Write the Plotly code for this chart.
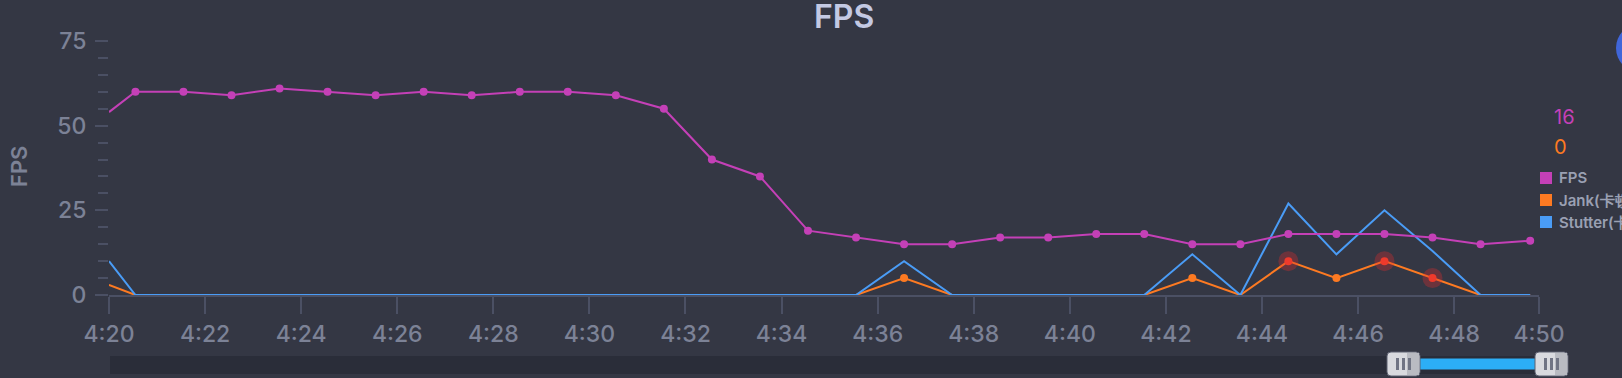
import plotly.graph_objects as go

# ---------------- data ----------------
times = ["04:20:00", "04:20:33", "04:21:33", "04:22:33", "04:23:33", "04:24:33", "04:25:33",
         "04:26:33", "04:27:33", "04:28:33", "04:29:33", "04:30:33", "04:31:33", "04:32:33",
         "04:33:33", "04:34:33", "04:35:33", "04:36:33", "04:37:33", "04:38:33", "04:39:33",
         "04:40:33", "04:41:33", "04:42:33", "04:43:33", "04:44:33", "04:45:33", "04:46:33",
         "04:47:33", "04:48:33", "04:49:35"]
fps = [54, 60, 60, 59, 61, 60, 59, 60, 59, 60, 60, 59, 55, 40, 35, 19, 17, 15, 15, 17, 17,
       18, 18, 15, 15, 18, 18, 18, 17, 15, 16]
jank = [3, 0, 0, 0, 0, 0, 0, 0, 0, 0, 0, 0, 0, 0, 0, 0, 0, 5, 0, 0, 0,
        0, 0, 5, 0, 10, 5, 10, 5, 0, 0]
stutter = [10, 0, 0, 0, 0, 0, 0, 0, 0, 0, 0, 0, 0, 0, 0, 0, 0, 10, 0, 0, 0,
           0, 0, 12, 0, 27, 12, 25, 13, 0, 0]
jank_dots = ["04:36:33", "04:42:33", "04:45:33"]
jank_alerts = ["04:44:33", "04:46:33", "04:47:33"]
tick_times = ["04:20", "04:22", "04:24", "04:26", "04:28", "04:30", "04:32", "04:34",
              "04:36", "04:38", "04:40", "04:42", "04:44", "04:46", "04:48"]
tick_labels = ["4:20", "4:22", "4:24", "4:26", "4:28", "4:30", "4:32", "4:34",
               "4:36", "4:38", "4:40", "4:42", "4:44", "4:46", "4:48"]
axis_end = "04:49:46"
axis_end_label = "4:50"
legend_names = ["FPS", "Jank(卡顿次数)", "Stutter(卡顿率)"]
current_values = ["16", "0"]

DAY = "2024-01-01 "
X = [DAY + t for t in times]

C_BG = "#343744"
C_FPS = "#c440b7"
C_JANK = "#fd7a22"
C_STUT = "#4a9cf6"
C_AXIS = "#4b5064"
C_TXT = "#7c8296"
FONT = "Inter"

# plot area in pixels
L, R, T, B = 109, 1539, 41, 295
W, H = 1622, 378
def px(x):
    return (x - L) / (R - L)
def py(y):
    return (B - y) / (B - T)

fig = go.Figure()
fig.add_trace(go.Scatter(x=X, y=jank, mode="lines", line=dict(color=C_JANK, width=2),
                         hoverinfo="skip", showlegend=False))
fig.add_trace(go.Scatter(x=X, y=stutter, mode="lines", line=dict(color=C_STUT, width=2),
                         hoverinfo="skip", showlegend=False))
fig.add_trace(go.Scatter(x=X, y=fps, mode="lines", line=dict(color=C_FPS, width=2),
                         hoverinfo="skip", showlegend=False))
fig.add_trace(go.Scatter(x=X[1:], y=fps[1:], mode="markers",
                         marker=dict(color=C_FPS, size=8), hoverinfo="skip", showlegend=False))
jd_y = [jank[times.index(t)] for t in jank_dots]
fig.add_trace(go.Scatter(x=[DAY + t for t in jank_dots], y=jd_y, mode="markers",
                         marker=dict(color=C_JANK, size=8), hoverinfo="skip", showlegend=False))
ja_y = [jank[times.index(t)] for t in jank_alerts]
fig.add_trace(go.Scatter(x=[DAY + t for t in jank_alerts], y=ja_y, mode="markers",
                         marker=dict(color="rgba(225,45,45,0.33)", size=20),
                         hoverinfo="skip", showlegend=False))
fig.add_trace(go.Scatter(x=[DAY + t for t in jank_alerts], y=ja_y, mode="markers",
                         marker=dict(color="#ee3a2c", size=8), hoverinfo="skip", showlegend=False))

shapes = []
annotations = []

# title
annotations.append(dict(x=px(844), y=py(17), xref="paper", yref="paper", text="FPS",
                        showarrow=False, xanchor="center", yanchor="middle",
                        font=dict(family=FONT, size=32, color="#c3c9e3", weight=600)))
# y axis title
annotations.append(dict(x=px(19), y=py(166), xref="paper", yref="paper", text="FPS",
                        showarrow=False, textangle=-90, xanchor="center", yanchor="middle",
                        font=dict(family=FONT, size=22, color=C_TXT, weight=600)))
# current values
annotations.append(dict(x=px(1552), y=py(117), xref="paper", yref="paper", text=current_values[0],
                        showarrow=False, xanchor="left", yanchor="middle",
                        font=dict(family=FONT, size=20, color=C_FPS)))
annotations.append(dict(x=px(1552), y=py(147), xref="paper", yref="paper", text=current_values[1],
                        showarrow=False, xanchor="left", yanchor="middle",
                        font=dict(family=FONT, size=20, color=C_JANK)))
# legend
for i, (name, col) in enumerate(zip(legend_names, [C_FPS, C_JANK, C_STUT])):
    cy = 178 + 22 * i
    shapes.append(dict(type="rect", xref="paper", yref="paper",
                       x0=px(1540), x1=px(1552), y0=py(cy - 6), y1=py(cy + 6),
                       fillcolor=col, line=dict(width=0)))
    annotations.append(dict(x=px(1557), y=py(cy), xref="paper", yref="paper", text=name,
                            showarrow=False, xanchor="left", yanchor="middle",
                            font=dict(family=FONT, size=15, color="#9aa0b3", weight=600)))

# blue circle top right
shapes.append(dict(type="circle", xref="paper", yref="paper",
                   x0=px(1616), x1=px(1664), y0=py(72), y1=py(24),
                   fillcolor="#4066d9", line=dict(width=0)))

# data zoom slider
shapes.append(dict(type="rect", xref="paper", yref="paper",
                   x0=px(110), x1=px(1560), y0=py(374), y1=py(356),
                   fillcolor="#2a2d39", line=dict(width=0)))
shapes.append(dict(type="rect", xref="paper", yref="paper",
                   x0=px(1419), x1=px(1537), y0=py(369.5), y1=py(358.5),
                   fillcolor="#2caef6", line=dict(width=0)))

def rrect(x0, y0, x1, y1, r):
    pts = [
        f"M {px(x0 + r)},{py(y0)}",
        f"L {px(x1 - r)},{py(y0)}",
        f"Q {px(x1)},{py(y0)} {px(x1)},{py(y0 + r)}",
        f"L {px(x1)},{py(y1 - r)}",
        f"Q {px(x1)},{py(y1)} {px(x1 - r)},{py(y1)}",
        f"L {px(x0 + r)},{py(y1)}",
        f"Q {px(x0)},{py(y1)} {px(x0)},{py(y1 - r)}",
        f"L {px(x0)},{py(y0 + r)}",
        f"Q {px(x0)},{py(y0)} {px(x0 + r)},{py(y0)}",
        "Z",
    ]
    return " ".join(pts)

for hx in (1387, 1535):
    shapes.append(dict(type="path", xref="paper", yref="paper",
                       path=rrect(hx, 352, hx + 33, 376, 4),
                       fillcolor="#d9dadf", line=dict(color="#5d6171", width=1)))
    shapes.append(dict(type="rect", xref="paper", yref="paper",
                       x0=px(hx + 20), x1=px(hx + 32), y0=py(375), y1=py(353),
                       fillcolor="#b9bbc2", line=dict(width=0)))
    for bx in (hx + 9, hx + 15, hx + 21):
        shapes.append(dict(type="rect", xref="paper", yref="paper",
                           x0=px(bx), x1=px(bx + 3), y0=py(370), y1=py(358),
                           fillcolor="#707484", line=dict(width=0)))

fig.update_layout(
    width=W, height=H,
    margin=dict(l=L, r=W - R, t=T, b=H - B, pad=0),
    paper_bgcolor=C_BG, plot_bgcolor=C_BG,
    showlegend=False,
    shapes=shapes, annotations=annotations,
    xaxis=dict(type="date", range=[DAY + times[0], DAY + axis_end],
               tickvals=[DAY + t for t in tick_times] + [DAY + axis_end],
               ticktext=tick_labels + [axis_end_label],
               showgrid=False, zeroline=False, showline=True, linecolor=C_AXIS, linewidth=2,
               ticks="outside", ticklen=17, tickwidth=2, tickcolor=C_AXIS,
               tickfont=dict(family=FONT, size=23, color=C_TXT, weight=500), fixedrange=True),
    yaxis=dict(range=[0, 75], tickvals=[0, 25, 50, 75], showgrid=False, zeroline=False,
               showline=False, ticks="outside", ticklen=13, tickwidth=2, tickcolor=C_AXIS,
               minor=dict(dtick=5, tick0=0, ticks="outside", ticklen=10, tickwidth=2,
                          tickcolor=C_AXIS, showgrid=False),
               ticklabelstandoff=4,
               tickfont=dict(family=FONT, size=23, color=C_TXT, weight=500), fixedrange=True),
)

fig.write_html("out.html", config={"displayModeBar": False},
               post_script="document.body.style.margin='0';document.body.style.background='" + C_BG + "';")
